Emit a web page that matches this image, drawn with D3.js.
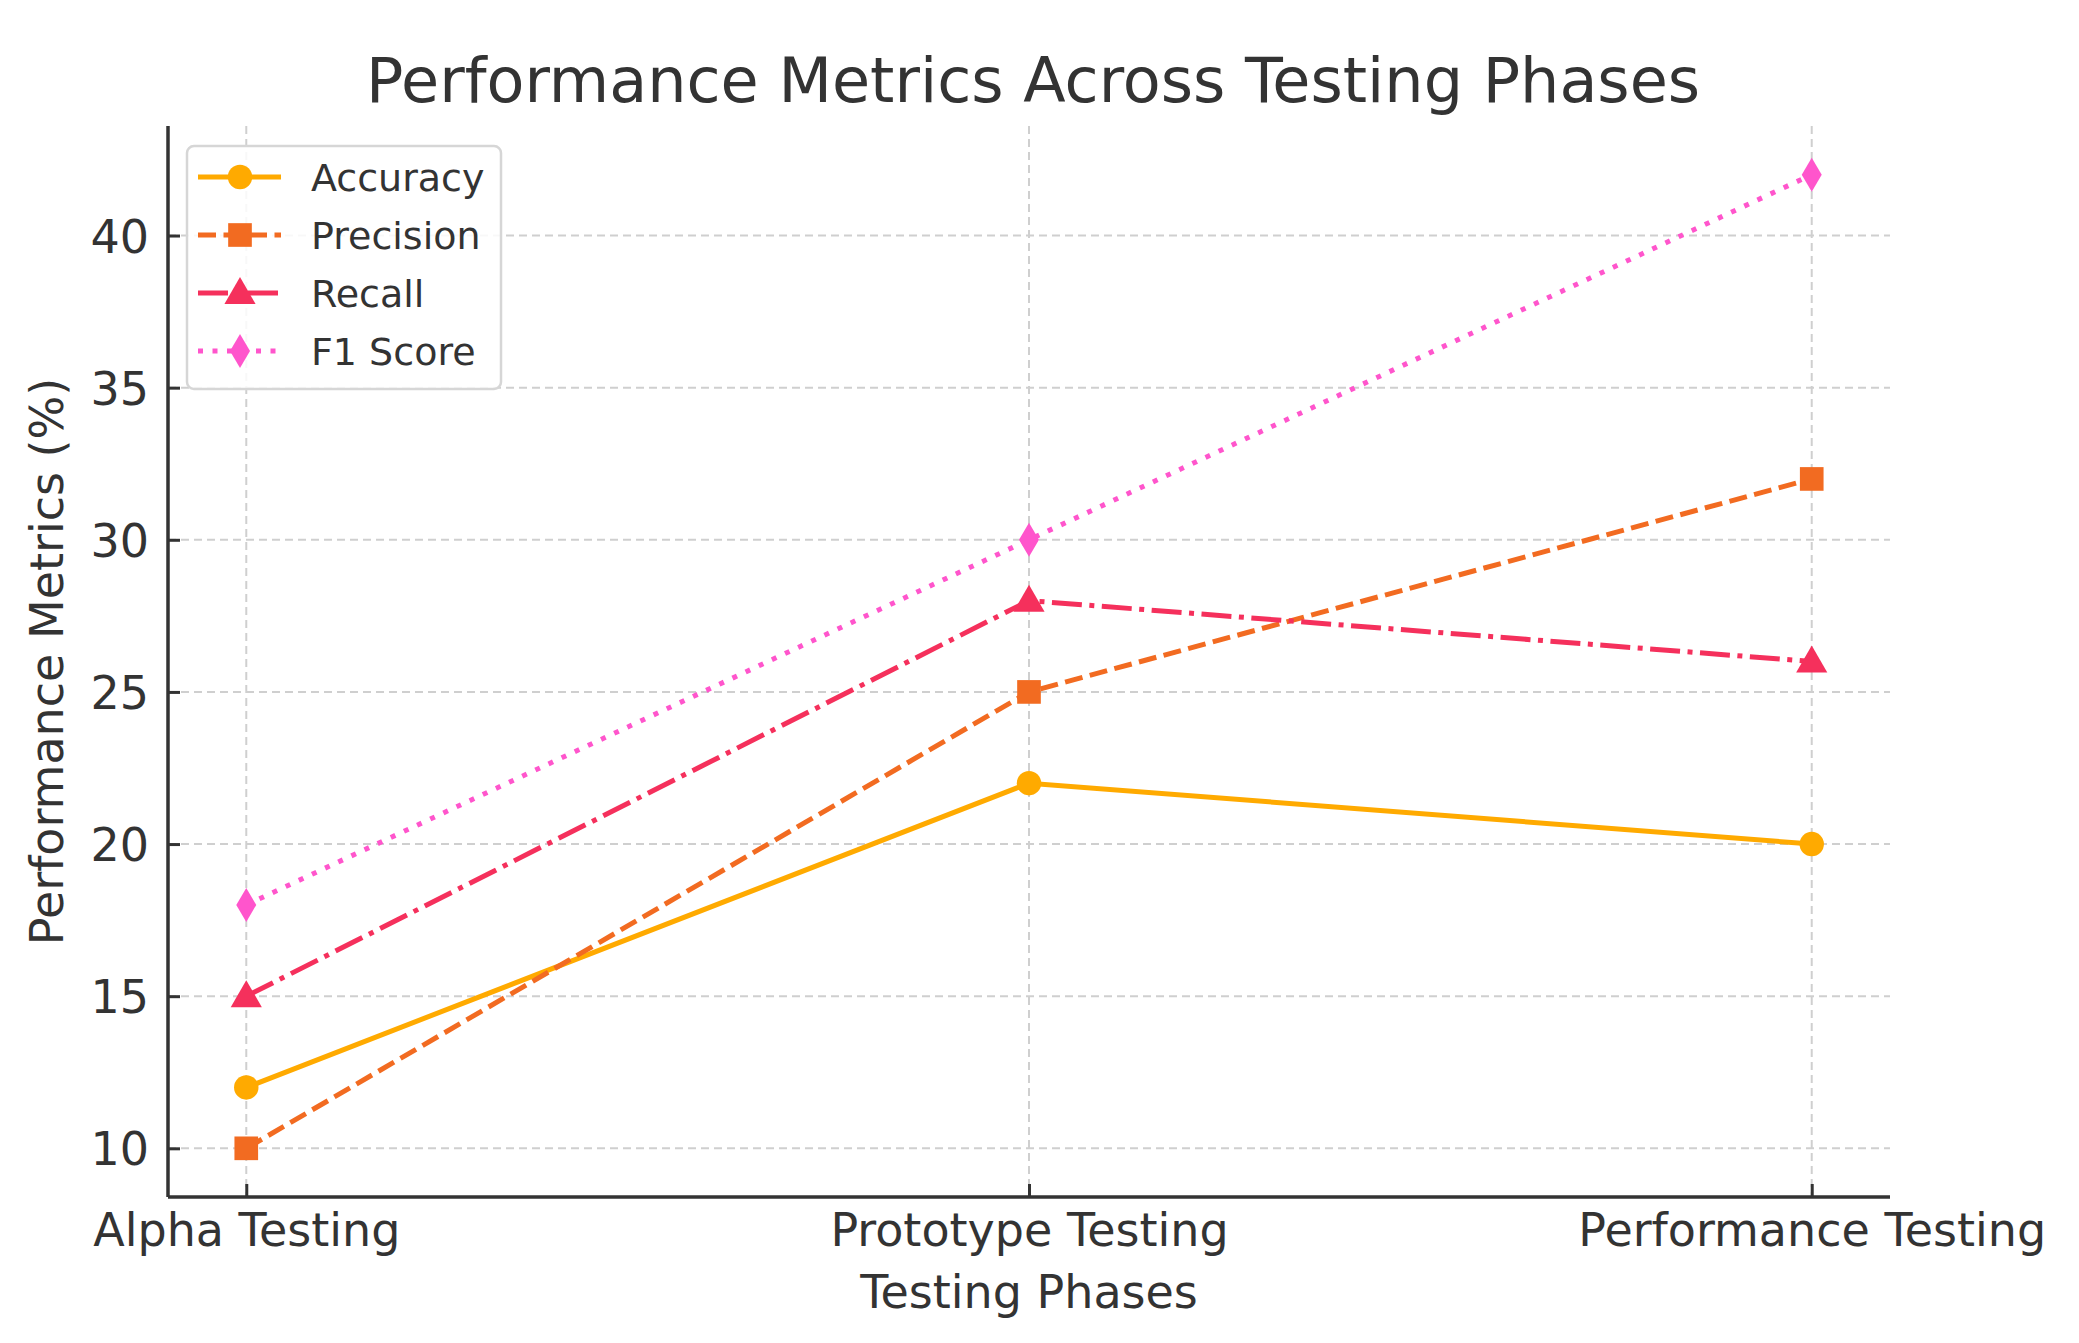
<!DOCTYPE html>
<html>
<head>
<meta charset="utf-8">
<script src="https://cdn.jsdelivr.net/npm/d3@7"></script>
<style>
  html, body { margin: 0; padding: 0; background: #fff; }
  svg { display: block; font-family: "DejaVu Sans", sans-serif; }
</style>
</head>
<body>
<svg id="chart" width="2079" height="1343"></svg>
<script>
// chart data
const phases = ['Alpha Testing', 'Prototype Testing', 'Performance Testing'];
const accuracy = [12, 22, 20];
const precision = [10, 25, 32];
const recall = [15, 28, 26];
const f1Score = [18, 30, 42];
const yTicks = [10, 15, 20, 25, 30, 35, 40];

const series = [
  { name: 'Accuracy', values: accuracy, color: '#ffaa00', dash: null, marker: 'circle' },
  { name: 'Precision', values: precision, color: '#f26b21', dash: '18,7.5', marker: 'square' },
  { name: 'Recall', values: recall, color: '#f5305c', dash: '30,7.5,5,7.5', marker: 'triangle' },
  { name: 'F1 Score', values: f1Score, color: '#ff55cc', dash: '5,9.5', marker: 'diamond' }
];

const margin = { top: 126, right: 189, bottom: 146, left: 168 };
const width = 2079 - margin.left - margin.right;
const height = 1343 - margin.top - margin.bottom;
const textColor = '#333333';

const svg = d3.select('#chart');
const g = svg.append('g').attr('transform', `translate(${margin.left},${margin.top})`);

const x = d3.scaleLinear().domain([-0.1, 2.1]).range([0, width]);
const y = d3.scaleLinear().domain([8.4, 43.6]).range([height, 0]);

// grid
g.append('g').selectAll('line')
  .data(yTicks).enter().append('line')
  .attr('x1', 0).attr('x2', width)
  .attr('y1', d => y(d)).attr('y2', d => y(d))
  .attr('stroke', '#cfcfcf').attr('stroke-width', 2).attr('stroke-dasharray', '8,5');
g.append('g').selectAll('line')
  .data(phases).enter().append('line')
  .attr('x1', (d, i) => x(i)).attr('x2', (d, i) => x(i))
  .attr('y1', 0).attr('y2', height)
  .attr('stroke', '#cfcfcf').attr('stroke-width', 2).attr('stroke-dasharray', '8,5');

// axes (ticks point inward)
const yAxis = g.append('g')
  .call(d3.axisLeft(y).tickValues(yTicks).tickSize(-12).tickPadding(19).tickFormat(d3.format('d')));
const xAxis = g.append('g').attr('transform', `translate(0,${height})`)
  .call(d3.axisBottom(x).tickValues([0, 1, 2]).tickSize(-13).tickPadding(16).tickFormat(i => phases[i]));

[yAxis, xAxis].forEach(ax => {
  ax.select('.domain').attr('stroke', textColor).attr('stroke-width', 3.5);
  ax.selectAll('.tick line').attr('stroke', textColor).attr('stroke-width', 3);
  ax.selectAll('.tick text').attr('fill', textColor).attr('font-size', 46)
    .attr('font-family', '"DejaVu Sans", sans-serif');
});
xAxis.selectAll('.tick text').attr('dy', null).attr('y', 49);
yAxis.selectAll('.tick text').attr('dy', '0.36em');
// matplotlib style: no end ticks on the domain path
yAxis.select('.domain').attr('d', `M0,0V${height}`);
xAxis.select('.domain').attr('d', `M0,0H${width}`);

// markers
const symbolFor = {
  circle: d3.symbol(d3.symbolCircle, 470),
  square: d3.symbol(d3.symbolSquare, 560),
  triangle: d3.symbol(d3.symbolTriangle, 420)
};
function drawMarker(sel, s) {
  if (s.marker === 'diamond') {
    sel.append('path').attr('d', 'M0,-17L10,0L0,17L-10,0Z').attr('fill', s.color);
  } else {
    sel.append('path').attr('d', symbolFor[s.marker]()).attr('fill', s.color)
      .attr('transform', s.marker === 'triangle' ? 'translate(0,2)' : null);
  }
}

const line = d3.line().x((d, i) => x(i)).y(d => y(d));

series.forEach(s => {
  g.append('path')
    .datum(s.values)
    .attr('d', line)
    .attr('fill', 'none')
    .attr('stroke', s.color)
    .attr('stroke-width', 5)
    .attr('stroke-dasharray', s.dash);
  g.append('g').selectAll('g')
    .data(s.values).enter().append('g')
    .attr('transform', (d, i) => `translate(${x(i)},${y(d)})`)
    .each(function () { drawMarker(d3.select(this), s); });
});

// legend
const legend = svg.append('g').attr('transform', 'translate(187,146)');
legend.append('rect')
  .attr('width', 314).attr('height', 243).attr('rx', 7)
  .attr('fill', 'rgba(255,255,255,0.85)').attr('stroke', '#d6d6d6').attr('stroke-width', 2.5);
series.forEach((s, i) => {
  const row = legend.append('g').attr('transform', `translate(0,${31 + i * 58})`);
  row.append('line')
    .attr('x1', 11).attr('x2', 94)
    .attr('stroke', s.color).attr('stroke-width', 5)
    .attr('stroke-dasharray', s.dash);
  const m = row.append('g').attr('transform', 'translate(53,0)');
  drawMarker(m, s);
  row.append('text')
    .attr('x', 124).attr('dy', '0.36em')
    .attr('font-size', 38).attr('fill', textColor)
    .text(s.name);
});

// title and axis labels
svg.append('text')
  .attr('x', margin.left + width / 2 + 4).attr('y', 102)
  .attr('text-anchor', 'middle').attr('font-size', 62).attr('fill', textColor)
  .text('Performance Metrics Across Testing Phases');

svg.append('text')
  .attr('x', margin.left + width / 2).attr('y', 1308)
  .attr('text-anchor', 'middle').attr('font-size', 46).attr('fill', textColor)
  .text('Testing Phases');

svg.append('text')
  .attr('transform', `translate(63,${margin.top + height / 2}) rotate(-90)`)
  .attr('text-anchor', 'middle').attr('font-size', 46).attr('fill', textColor)
  .text('Performance Metrics (%)');
</script>
</body>
</html>
